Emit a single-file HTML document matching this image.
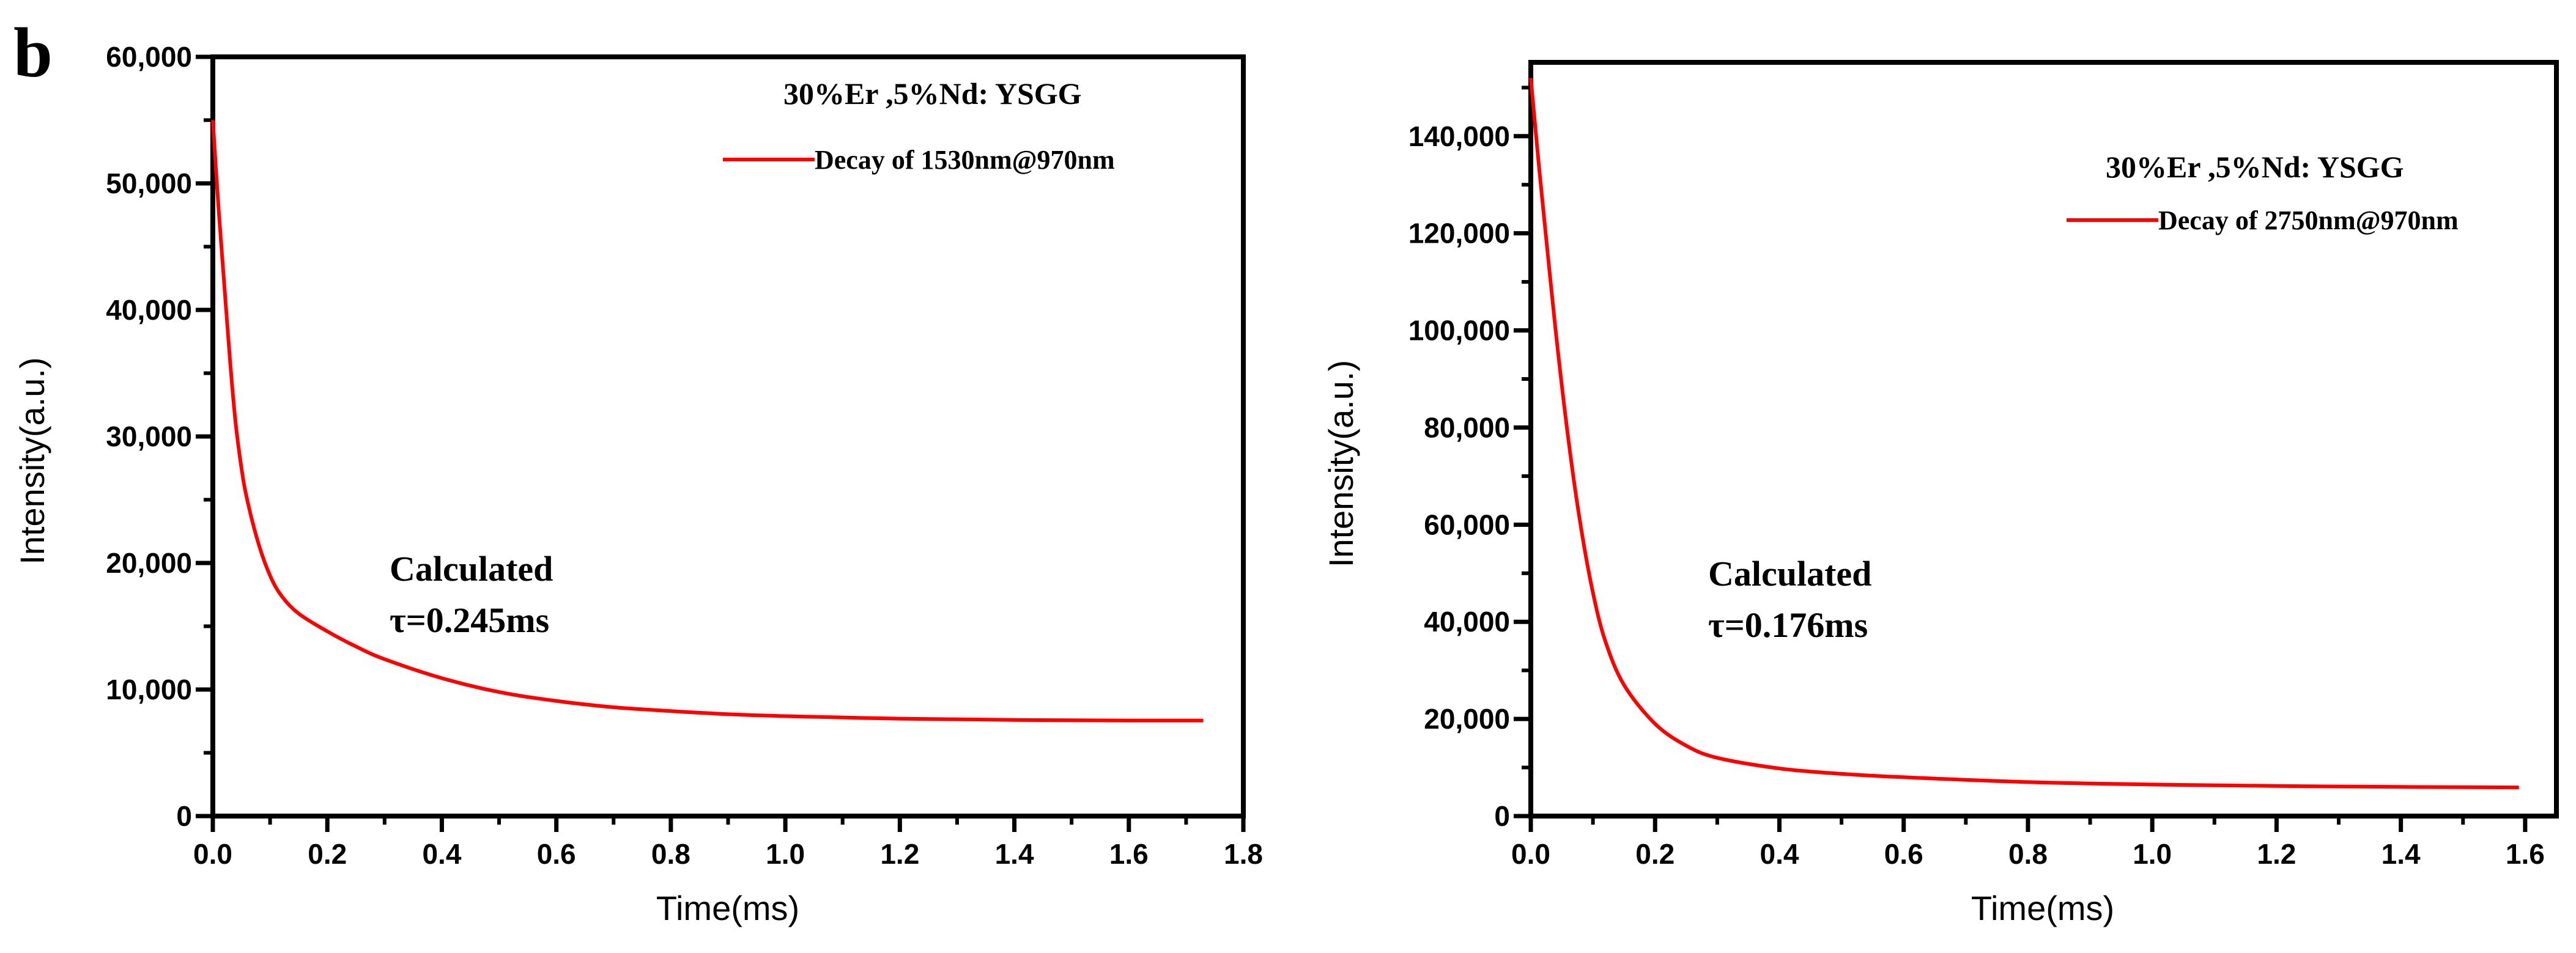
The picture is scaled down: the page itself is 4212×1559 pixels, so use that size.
<!DOCTYPE html>
<html><head><meta charset="utf-8"><style>
html,body{margin:0;padding:0;background:#fff;}
svg{display:block;}
.tk{font-family:"Liberation Sans",Arial,sans-serif;font-weight:bold;font-size:46px;fill:#000;}
.at{font-family:"Liberation Sans",Arial,sans-serif;font-size:56px;fill:#000;}
.tm{font-family:"Liberation Serif","Times New Roman",serif;font-weight:bold;fill:#000;}
</style></head><body>
<svg id="fig" width="4212" height="1559" viewBox="0 0 4212 1559" xmlns="http://www.w3.org/2000/svg">
<text x="22" y="125" class="tm" font-size="115">b</text>
</svg>
<script>
// Left chart data
const leftTimes = [0,0.01,0.02,0.03,0.04,0.05,0.06,0.08,0.1,0.12,0.15,0.2,0.25,0.3,0.4,0.5,0.6,0.7,0.8,0.9,1.0,1.2,1.4,1.6,1.73];
const leftValues = [55000,48000,42000,36000,31000,27500,25000,21500,19000,17400,16000,14600,13400,12400,10900,9800,9100,8600,8300,8050,7900,7700,7600,7550,7550];
const leftXTicks = ["0.0","0.2","0.4","0.6","0.8","1.0","1.2","1.4","1.6","1.8"];
const leftYTicks = ["0","10,000","20,000","30,000","40,000","50,000","60,000"];
// Right chart data
const rightTimes = [0,0.01,0.02,0.04,0.06,0.08,0.1,0.12,0.15,0.2,0.25,0.3,0.4,0.5,0.6,0.8,1.0,1.2,1.4,1.59];
const rightValues = [152000,138000,125000,100000,78000,60000,46000,36000,27000,19000,14500,12000,9800,8700,8000,7000,6500,6200,6000,5900];
const rightXTicks = ["0.0","0.2","0.4","0.6","0.8","1.0","1.2","1.4","1.6"];
const rightYTicks = ["0","20,000","40,000","60,000","80,000","100,000","120,000","140,000"];

const NS="http://www.w3.org/2000/svg";
const svg=document.getElementById('fig');
function mk(tag,attrs,parent){const e=document.createElementNS(NS,tag);for(const k in attrs)e.setAttribute(k,attrs[k]);(parent||svg).appendChild(e);return e;}

function smoothPath(pts){
  let d='M'+pts[0][0].toFixed(1)+','+pts[0][1].toFixed(1);
  for(let i=0;i<pts.length-1;i++){
    const p0=pts[Math.max(0,i-1)],p1=pts[i],p2=pts[i+1],p3=pts[Math.min(pts.length-1,i+2)];
    const c1x=p1[0]+(p2[0]-p0[0])/6,c1y=p1[1]+(p2[1]-p0[1])/6;
    const c2x=p2[0]-(p3[0]-p1[0])/6,c2y=p2[1]-(p3[1]-p1[1])/6;
    d+='C'+c1x.toFixed(1)+','+c1y.toFixed(1)+' '+c2x.toFixed(1)+','+c2y.toFixed(1)+' '+p2[0].toFixed(1)+','+p2[1].toFixed(1);
  }
  return d;
}

function chart(o){
  const g=mk('g',{});
  
  
  const sx=v=>o.x0+(v-o.xmin)/(o.xmax-o.xmin)*(o.x1-o.x0);
  const sy=v=>o.y0-(v-o.ymin)/(o.ymax-o.ymin)*(o.y0-o.y1);
  o.yTicks.forEach((lab,i)=>{
    const v=i*o.yStep, y=sy(v);
    mk('line',{x1:o.x0-28,x2:o.x0,y1:y,y2:y,stroke:'#000','stroke-width':7},g);
    const t=mk('text',{x:o.x0-34,y:y+16,'text-anchor':'end',class:'tk'},g);t.textContent=lab;
    
    
    const vm=v+o.yStep/2; if(vm<o.ymax){const ym=sy(vm);mk('line',{x1:o.x0-15,x2:o.x0,y1:ym,y2:ym,stroke:'#000','stroke-width':6},g);}
  });
  o.xTicks.forEach((lab,i)=>{
    const v=i*0.2, x=sx(v);
    mk('line',{x1:x,x2:x,y1:o.y0,y2:o.y0+26,stroke:'#000','stroke-width':7},g);
    const t=mk('text',{x:x,y:o.y0+78,'text-anchor':'middle',class:'tk'},g);t.textContent=lab;
    
    
    const vm=v+0.1; if(vm<o.xmax){const xm=sx(vm);mk('line',{x1:xm,x2:xm,y1:o.y0,y2:o.y0+14,stroke:'#000','stroke-width':6},g);}
  });
  const fr=mk('rect',{x:o.x0,y:o.y1,width:o.x1-o.x0,height:o.y0-o.y1,fill:'none',stroke:'#000','stroke-width':8},g);
  
  
  const pts=o.xs.map((t,i)=>[sx(t),sy(o.ys[i])]);
  const p=mk('path',{d:smoothPath(pts),fill:'none',stroke:'#ff0000','stroke-width':6,'stroke-linejoin':'round'},g);
  
  
  const yt=mk('text',{x:0,y:0,class:'at','text-anchor':'middle',transform:`translate(${o.ytX},${(o.y0+o.y1)/2+40}) rotate(-90)`},g);yt.textContent='Intensity(a.u.)';
  
  
  const xt=mk('text',{x:o.xtX,y:1505,class:'at','text-anchor':'middle'},g);xt.textContent='Time(ms)';
  
  
  const ti=mk('text',{x:o.tX,y:o.tY,class:'tm','font-size':50},g);ti.textContent='30%Er ,5%Nd: YSGG';
  
  
  const ll=mk('line',{x1:o.lX,x2:o.lX+150,y1:o.lY,y2:o.lY,stroke:'#ff0000','stroke-width':6},g);
  
  
  const lt=mk('text',{x:o.lX+150,y:o.lY+15,class:'tm','font-size':44},g);lt.textContent=o.legend;
  
  
  const c1=mk('text',{x:o.cX,y:o.cY,class:'tm','font-size':58},g);c1.textContent='Calculated';
  
  
  const c2=mk('text',{x:o.cX,y:o.cY+84,class:'tm','font-size':58},g);c2.textContent=o.tau;
  
  
}
chart({name:'left-chart',x0:348,x1:2033,y0:1335,y1:93,xmin:0,xmax:1.8,ymin:0,ymax:60000,yStep:10000,
  xTicks:leftXTicks,yTicks:leftYTicks,xs:leftTimes,ys:leftValues,ytX:72,xtX:1190,
  tX:1281,tY:170,lX:1182,lY:261,legend:'Decay of 1530nm@970nm',cX:637,cY:950,tau:'τ=0.245ms'});
chart({name:'right-chart',x0:2503,x1:4180,y0:1335,y1:102,xmin:0,xmax:1.6+51/202.7*0.2,ymin:0,ymax:155200,yStep:20000,
  xTicks:rightXTicks,yTicks:rightYTicks,xs:rightTimes,ys:rightValues,ytX:2212,xtX:3340,
  tX:3443,tY:290,lX:3379,lY:360,legend:'Decay of 2750nm@970nm',cX:2793,cY:958,tau:'τ=0.176ms'});
</script>
</body></html>
